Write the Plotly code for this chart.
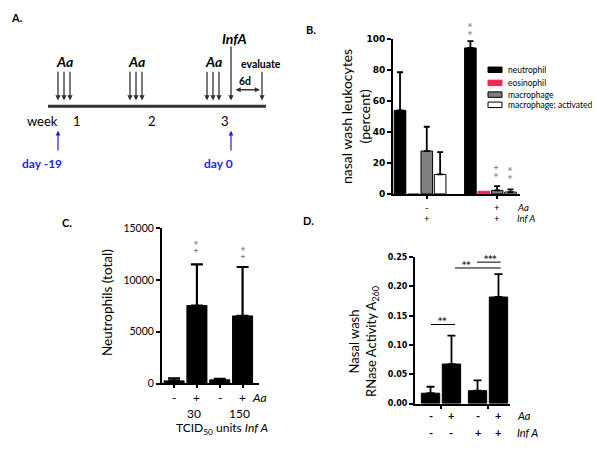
import plotly.graph_objects as go

# ---------------- data ----------------
# Panel A : schematic timeline (diagram units, panel-local)
a_week_labels = ["week", "1", "2", "3"]
a_week_x = [42, 77, 152, 225]
a_aa_groups_x = [[58, 64, 70], [130, 136, 142], [207, 213, 219]]
a_infa_x = 231
a_eval_x = 262
a_day_labels = ["day -19", "day 0"]
a_day_arrow_x = [58, 231]
a_day_label_x = [42, 218]

# Panel B : nasal wash leukocytes (percent)
b_conditions = [0, 1]
b_aa = ["-", "+"]
b_infa = ["+", "+"]
b_series = ["neutrophil", "eosinophil", "macrophage", "macrophage; activated"]
b_neutrophil = [54.0, 94.3]
b_neutrophil_err = [24.6, 4.4]
b_eosinophil = [0.0, 1.7]
b_eosinophil_err = [0.0, 0.0]
b_macrophage = [27.7, 2.3]
b_macrophage_err = [15.7, 2.7]
b_activated = [12.6, 1.2]
b_activated_err = [14.4, 1.8]
b_colors = ["#000000", "#f0245a", "#808080", "#ffffff"]

# Panel C : neutrophils (total)
c_x = [0, 1, 2, 3]
c_aa = ["-", "+", "-", "+"]
c_neutrophils = [250, 7530, 350, 6530]
c_neutrophils_err = [250, 3990, 90, 4730]
c_dose = ["30", "150"]

# Panel D : RNase activity
d_infa_groups = [0, 1]
d_infa = ["-", "+"]
d_aa_minus = [0.0177, 0.0220]
d_aa_minus_err = [0.0110, 0.0175]
d_aa_plus = [0.0675, 0.1820]
d_aa_plus_err = [0.0485, 0.0390]

# ---------------- helpers ----------------
W, H = 604, 456
FONT = "Lato"
TICKF = "DejaVu Sans"


def fx(p):
    return p / W


def fy(p):
    return 1 - p / H


annotations = []
shapes = []


def ann(text, x, y, xref="paper", yref="paper", size=11, color="black",
        family=FONT, weight="normal", xanchor="center", yanchor="middle",
        textangle=0, yshift=0, xshift=0):
    annotations.append(dict(text=text, x=x, y=y, xref=xref, yref=yref,
                            showarrow=False, xanchor=xanchor, yanchor=yanchor,
                            textangle=textangle, yshift=yshift, xshift=xshift,
                            font=dict(size=size, color=color, family=family,
                                      weight=weight)))


def arrow(x0, y0, x1, y1, color="#333333", width=1.3, both=False):
    annotations.append(dict(x=x1, y=y1, ax=x0, ay=y0, xref="x4", yref="y4",
                            axref="x4", ayref="y4", text="", showarrow=True,
                            arrowhead=2, arrowsize=0.8, arrowwidth=width,
                            arrowcolor=color, standoff=0, startstandoff=0,
                            startarrowhead=2, startarrowsize=0.8,
                            arrowside="end+start" if both else "end"))


def stars(xref, yref, x, y, shift):
    # two stacked asterisks drawn as one rotated text
    ann("* *", x, y, xref=xref, yref=yref, size=9.5, color="#777777",
        family=TICKF, textangle=90, yshift=shift, xshift=-2)


fig = go.Figure()

# ---------------- Panel B ----------------
b_vals = [b_neutrophil, b_eosinophil, b_macrophage, b_activated]
b_errs = [b_neutrophil_err, b_eosinophil_err, b_macrophage_err, b_activated_err]
b_slot = 0.19
b_width = 0.165
b_centers = [(i - 1.5) * b_slot for i in range(4)]
for i, name in enumerate(b_series):
    fig.add_trace(go.Bar(
        x=b_conditions, y=b_vals[i], name=name, xaxis="x", yaxis="y",
        width=b_width, offset=b_centers[i] - b_width / 2,
        marker=dict(color=b_colors[i],
                    line=dict(color=b_colors[i] if i == 1 else "black", width=1)),
        error_y=dict(type="data", array=b_errs[i], arrayminus=[0] * 2,
                     symmetric=False, color="black", thickness=1.8, width=3,
                     visible=(i != 1)),
        showlegend=False))

# ---------------- Panel C ----------------
fig.add_trace(go.Bar(
    x=c_x, y=c_neutrophils, xaxis="x2", yaxis="y2", width=0.877,
    marker=dict(color="black", line=dict(color="black", width=1)),
    error_y=dict(type="data", array=c_neutrophils_err, arrayminus=[0] * 4,
                 symmetric=False, color="black", thickness=2.2, width=6),
    showlegend=False, name="Neutrophils"))

# ---------------- Panel D ----------------
d_half = 0.223
d_width = 0.39
for vals, errs, sgn, name in [(d_aa_minus, d_aa_minus_err, -1, "Aa -"),
                              (d_aa_plus, d_aa_plus_err, 1, "Aa +")]:
    fig.add_trace(go.Bar(
        x=d_infa_groups, y=vals, xaxis="x3", yaxis="y3", name=name,
        width=d_width, offset=sgn * d_half - d_width / 2,
        marker=dict(color="black", line=dict(color="black", width=1)),
        error_y=dict(type="data", array=errs, arrayminus=[0] * 2,
                     symmetric=False, color="black", thickness=1.8, width=4),
        showlegend=False))

# ---------------- Panel A drawing ----------------
shapes.append(dict(type="line", xref="x4", yref="y4", x0=48, x1=266, y0=103,
                   y1=103, line=dict(color="#333333", width=3)))
for grp in a_aa_groups_x:
    for xx in grp:
        arrow(xx, 66, xx, 97)
    ann("<b><i>Aa</i></b>", sum(grp) / len(grp), 57, xref="x4", yref="y4",
        size=14)
arrow(a_infa_x, 40, a_infa_x, 97)
ann("<b><i>InfA</i></b>", a_infa_x + 3, 33, xref="x4", yref="y4", size=14)
arrow(a_eval_x, 66, a_eval_x, 97)
ann("<b>evaluate</b>", a_eval_x - 1, 60, xref="x4", yref="y4", size=10.5)
arrow(a_infa_x + 3, 86, a_eval_x - 2, 86, both=True)
ann("<b>6d</b>", 245, 77, xref="x4", yref="y4", size=10.5)
for lab, xx in zip(a_week_labels, a_week_x):
    ann(lab, xx, 118, xref="x4", yref="y4", size=13)
for lab, xa, xl in zip(a_day_labels, a_day_arrow_x, a_day_label_x):
    arrow(xa, 150, xa, 128, color="#1f1fe6", width=1.2)
    ann("<b>" + lab + "</b>", xl, 162, xref="x4", yref="y4", size=12,
        color="#1f1fe6")

# ---------------- panel letters ----------------
ann("<b>A.</b>", fx(17), fy(12), size=11)
ann("<b>B.</b>", fx(311), fy(24), size=11)
ann("<b>C.</b>", fx(67), fy(222), size=11)
ann("<b>D.</b>", fx(308), fy(220), size=11)

# ---------------- Panel B texts ----------------
ann("nasal wash leukocytes<br>(percent)", fx(355), fy(113), size=14,
    textangle=-90)
b_tick_x = [g + b_centers[2] for g in b_conditions]
for xx, a, f in zip(b_tick_x, b_aa, b_infa):
    ann(a, xx, fy(206.5), xref="x", size=9.5)
    ann(f, xx, fy(218.5), xref="x", size=9.5)
ann("<i>Aa</i>", fx(515), fy(206.5), size=9.5, xanchor="left")
ann("<i>Inf A</i>", fx(515), fy(218.5), size=9.5, xanchor="left")
# legend
b_leg_y = [65.5, 79, 91, 101.5]
for name, col, yy in zip(b_series, b_colors, b_leg_y):
    shapes.append(dict(type="rect", xref="paper", yref="paper",
                       x0=fx(488), x1=fx(502), y0=fy(yy + 2.8), y1=fy(yy - 2.8),
                       fillcolor=col,
                       line=dict(color=col if col == "#f0245a" else "black",
                                 width=1)))
    ann(name, fx(506), fy(yy), size=8.5, xanchor="left")
# significance stars
stars("x", "y", 1 + b_centers[0], b_neutrophil[1] + b_neutrophil_err[1], 12)
stars("x", "y", 1 + b_centers[2], b_macrophage[1] + b_macrophage_err[1], 15)
stars("x", "y", 1 + b_centers[3], b_activated[1] + b_activated_err[1], 16)

# ---------------- Panel C texts ----------------
ann("Neutrophils (total)", fx(107), fy(305), size=13.5, textangle=-90)
for xx, a in zip(c_x, c_aa):
    ann(a, xx, fy(402), xref="x2", size=12)
ann("<i>Aa</i>", fx(250), fy(402), size=12, xanchor="left")
for i, d in enumerate(c_dose):
    ann(d, (c_x[2 * i] + c_x[2 * i + 1]) / 2 + 0.35, fy(419), xref="x2",
        size=12)
ann("TCID<sub>50</sub> units <i>Inf A</i>", fx(222), fy(434), size=12)
stars("x2", "y2", c_x[1], c_neutrophils[1] + c_neutrophils_err[1], 17)
stars("x2", "y2", c_x[3], c_neutrophils[3] + c_neutrophils_err[3], 14)

# ---------------- Panel D texts ----------------
ann("Nasal wash<br>RNase Activity A<sub>260</sub>", fx(364), fy(345), size=13,
    textangle=-90)
for g, f in zip(d_infa_groups, d_infa):
    for sgn, a in [(-1, "-"), (1, "+")]:
        ann("<b>" + a + "</b>", g + sgn * d_half, fy(421), xref="x3", size=11)
        ann("<b>" + f + "</b>", g + sgn * d_half, fy(438), xref="x3", size=11)
ann("<i>Aa</i>", fx(515), fy(421), size=11, xanchor="left")
ann("<i>Inf A</i>", fx(515), fy(438), size=11, xanchor="left")
# (line x0, line x1, line y, label, label x, label pixel shift above line)
d_sig = [(-0.213, 0.298, 0.135, "**", 0.03, 5),
         (0.298, 1.27, 0.2316, "**", 0.553, 4),
         (0.766, 1.27, 0.2416, "***", 1.043, 5)]
for x0, x1, yl, txt, xt, sh in d_sig:
    shapes.append(dict(type="line", xref="x3", yref="y3", x0=x0, x1=x1,
                       y0=yl, y1=yl, line=dict(color="black", width=1)))
    ann("<b>" + txt + "</b>", xt, yl, xref="x3", yref="y3", size=8,
        family=TICKF, color="#333333", yshift=sh - 2)

# ---------------- layout ----------------
base = dict(showgrid=False, zeroline=False, showline=True, linecolor="black",
            ticks="outside", tickcolor="black")
fig.update_layout(
    width=W, height=H, margin=dict(l=0, r=0, t=0, b=0), autosize=False,
    paper_bgcolor="white", plot_bgcolor="white", barmode="overlay",
    showlegend=False,
    xaxis=dict(base, domain=[fx(393), fx(520)], range=[-0.385, 1.42],
               anchor="y", tickvals=b_tick_x, showticklabels=False, ticklen=3,
               tickwidth=1.5, linewidth=2),
    yaxis=dict(base, domain=[fy(193), fy(34)], range=[0, 100], anchor="x",
               dtick=20, ticklen=4, tickwidth=2, linewidth=2,
               tickfont=dict(family=TICKF, size=9, color="black",
                             weight="bold")),
    xaxis2=dict(base, domain=[fx(162), fx(259)], range=[-0.53, 3.72],
                anchor="y2", tickvals=c_x, showticklabels=False, ticklen=3,
                tickwidth=1.5, linewidth=2),
    yaxis2=dict(base, domain=[fy(387.7), fy(228.3)], range=[0, 15000],
                anchor="x2", dtick=5000, tickformat="d", ticklen=4,
                tickwidth=2, linewidth=2,
                tickfont=dict(family=FONT, size=10.5, color="black")),
    xaxis3=dict(base, domain=[fx(415), fx(510)], range=[-0.553, 1.468],
                anchor="y3", tickvals=d_infa_groups, showticklabels=False,
                ticklen=3, tickwidth=1.5, linewidth=2),
    yaxis3=dict(base, domain=[fy(408.3), fy(258)], range=[0, 0.25],
                anchor="x3", dtick=0.05, tickformat=".2f", ticklen=4,
                tickwidth=2, linewidth=2,
                tickfont=dict(family=TICKF, size=8, color="black",
                              weight="bold")),
    xaxis4=dict(domain=[0, fx(300)], range=[0, 300], visible=False,
                anchor="y4", fixedrange=True),
    yaxis4=dict(domain=[fy(200), 1], range=[200, 0], visible=False,
                anchor="x4", fixedrange=True),
    annotations=annotations, shapes=shapes,
)

fig.write_html("out.html", config={"displayModeBar": False},
               post_script="document.body.style.margin='0';"
                           "document.body.style.overflow='hidden';")
